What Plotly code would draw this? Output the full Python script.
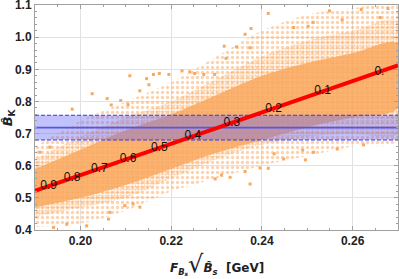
import plotly.graph_objects as go

# ---------------- data ----------------
# envelope of the scatter cloud (outer = sparse edge, core = medium, inner = dense part)
cloud_x = [0.19, 0.20, 0.21, 0.22, 0.23, 0.24, 0.25, 0.26, 0.27]
outer_lo = [0.41, 0.42, 0.46, 0.52, 0.56, 0.60, 0.63, 0.66, 0.68]
outer_hi = [0.66, 0.74, 0.80, 0.86, 0.94, 1.02, 1.07, 1.09, 1.10]
core_lo = [0.44, 0.47, 0.50, 0.56, 0.62, 0.665, 0.69, 0.70, 0.70]
core_hi = [0.62, 0.69, 0.75, 0.80, 0.87, 0.94, 0.99, 1.02, 1.05]
inner_lo = [0.47, 0.50, 0.54, 0.59, 0.64, 0.68, 0.72, 0.75, 0.78]
inner_hi = [0.59, 0.65, 0.71, 0.76, 0.82, 0.88, 0.92, 0.95, 0.98]

# individual outlying points
out_x = [0.1982, 0.2026, 0.2059, 0.2068, 0.2089, 0.2105, 0.2109, 0.2131, 0.2146, 0.2151,
         0.2161, 0.2174, 0.2195, 0.2224, 0.2241, 0.2252, 0.2272, 0.2296, 0.2376, 0.2363,
         0.2414, 0.2549, 0.2619, 0.2577, 0.2317, 0.2321, 0.2344, 0.2374, 0.2470, 0.2502,
         0.2513, 0.2678, 0.2661, 0.2374, 0.2330, 0.2311, 0.2297, 0.2396, 0.2414, 0.2448,
         0.2496, 0.2514, 0.2566, 0.2624, 0.2490, 0.2427, 0.2363, 0.2116, 0.2131, 0.2098,
         0.2062, 0.2014, 0.1970, 0.2065, 0.1941, 0.1911, 0.1933]
out_y = [0.776, 0.824, 0.809, 0.789, 0.803, 0.790, 0.880, 0.833, 0.871, 0.852,
         0.884, 0.887, 0.884, 0.895, 0.892, 0.887, 0.884, 0.884, 1.027, 1.009,
         1.074, 1.082, 1.086, 1.054, 0.972, 0.934, 0.970, 0.967, 1.030, 1.034,
         1.046, 1.089, 1.061, 0.543, 0.564, 0.571, 0.559, 0.593, 0.592, 0.621,
         0.618, 0.642, 0.652, 0.665, 0.649, 0.637, 0.582, 0.481, 0.471, 0.476,
         0.434, 0.413, 0.418, 0.455, 0.408, 0.642, 0.658]

# horizontal band
band_x = [0.19, 0.27]
band_lo = 0.680
band_hi = 0.757
band_mid = 0.7185

# red line with labels
line_x = [0.19, 0.27]
line_y = [0.522, 0.912]
lab_text = ["0.9", "0.8", "0.7", "0.6", "0.5", "0.4", "0.3", "0.2", "0.1", "0."]
lab_x = [0.1930, 0.1982, 0.2042, 0.2105, 0.2174, 0.2248, 0.2334, 0.2426, 0.2534, 0.2659]
lab_y = [0.5366, 0.562, 0.591, 0.622, 0.656, 0.692, 0.733, 0.778, 0.831, 0.892]

x_ticks = [0.20, 0.22, 0.24, 0.26]
y_ticks = [0.4, 0.5, 0.6, 0.7, 0.8, 0.9, 1.0, 1.1]

ORANGE = "#F9A85E"

fig = go.Figure()


def envelope(lo, hi):
    return cloud_x + cloud_x[::-1], lo + hi[::-1]


ex, ey = envelope(outer_lo, outer_hi)
fig.add_trace(go.Scatter(x=ex, y=ey, fill="toself", mode="none", line_shape="spline",
                         fillcolor="rgba(249,168,94,0.22)",
                         fillpattern=dict(shape=".", fgcolor=ORANGE, bgcolor="rgba(0,0,0,0)",
                                          size=5, solidity=0.35),
                         hoverinfo="skip", showlegend=False))
ex, ey = envelope(core_lo, core_hi)
fig.add_trace(go.Scatter(x=ex, y=ey, fill="toself", mode="none", line_shape="spline",
                         fillcolor="rgba(249,168,94,0.55)",
                         fillpattern=dict(shape=".", fgcolor=ORANGE, bgcolor="rgba(0,0,0,0)",
                                          size=3, solidity=0.5),
                         hoverinfo="skip", showlegend=False))
ex, ey = envelope(inner_lo, inner_hi)
fig.add_trace(go.Scatter(x=ex, y=ey, fill="toself", mode="none", line_shape="spline",
                         fillcolor="rgba(249,168,94,0.85)",
                         hoverinfo="skip", showlegend=False))
fig.add_trace(go.Scatter(x=out_x, y=out_y, mode="markers",
                         marker=dict(color=ORANGE, size=3, symbol="square"),
                         showlegend=False))

# band
fig.add_trace(go.Scatter(x=band_x + band_x[::-1], y=[band_lo, band_lo, band_hi, band_hi],
                         fill="toself", mode="none", fillcolor="rgba(100,100,245,0.40)",
                         showlegend=False))
for yv, dash, col, w in [(band_lo, "4px,2px", "#3535ee", 1.2), (band_hi, "4px,2px", "#3535ee", 1.2),
                         (band_mid, "solid", "#5555e6", 1.8)]:
    fig.add_trace(go.Scatter(x=band_x, y=[yv, yv], mode="lines",
                             line=dict(color=col, width=w, dash=dash),
                             showlegend=False))

# red line
fig.add_trace(go.Scatter(x=line_x, y=line_y, mode="lines",
                         line=dict(color="#FF0000", width=4), showlegend=False))
fig.add_trace(go.Scatter(x=lab_x, y=lab_y, mode="text", text=lab_text,
                         textposition="middle center",
                         textfont=dict(family="Liberation Sans", size=12, color="#111"),
                         showlegend=False))

axis_common = dict(showline=True, linecolor="#a0a0a0", linewidth=1, mirror="ticks",
                   ticks="inside", ticklen=4, tickcolor="#a0a0a0", automargin=False,
                   ticklabeloverflow="allow",
                   showgrid=True, gridcolor="#e2e2e2", gridwidth=1, zeroline=False,
                   tickfont=dict(family="Liberation Sans", size=12, color="#222", weight="bold"))

fig.update_xaxes(range=[0.19, 0.27], tickvals=x_ticks, ticktext=[f"{v:.2f}" for v in x_ticks],
                 minor=dict(dtick=0.005, ticks="inside", ticklen=2, tickcolor="#a0a0a0", showgrid=False),
                 **axis_common)
fig.update_yaxes(range=[0.4, 1.1001], tickvals=y_ticks, ticktext=[f"{v:.1f}" for v in y_ticks],
                 minor=dict(dtick=0.02, ticks="inside", ticklen=2, tickcolor="#a0a0a0", showgrid=False),
                 **axis_common)

fig.update_layout(width=399, height=279, margin=dict(l=35, r=1, t=5, b=49, autoexpand=False),
                  plot_bgcolor="white", paper_bgcolor="white", showlegend=False)

# axis titles
fig.add_annotation(xref="paper", yref="paper", x=-0.072, y=0.50, xanchor="center", yanchor="middle",
                   text="<b><i>B\u0302</i><sub>K</sub></b>", textangle=-90, showarrow=False,
                   font=dict(family="DejaVu Sans", size=13, color="#222"))
fig.add_annotation(xref="paper", yref="paper", x=0.50, y=-0.15, xanchor="center", yanchor="middle",
                   text="<b><i>F</i><sub><i>B<sub>s</sub></i></sub></b><span style='font-size:24px'>\u221a</span>"
                        "<b><i>B\u0302</i><sub><i>s</i></sub>  [GeV]</b>",
                   showarrow=False, font=dict(family="DejaVu Sans", size=12, color="#222"))

fig.write_html("out.html", config={"displayModeBar": False},
               post_script="document.body.style.margin='0';document.body.style.overflow='hidden';")
